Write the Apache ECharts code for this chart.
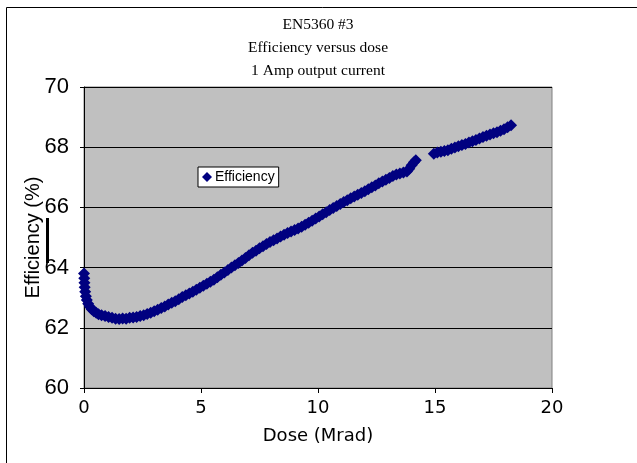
<!DOCTYPE html>
<html>
<head>
<meta charset="utf-8">
<script src="https://cdn.jsdelivr.net/npm/echarts@6/dist/echarts.min.js"></script>
<style>
  html, body { margin: 0; padding: 0; background: #fff; }
  #chart { width: 637px; height: 463px; }
</style>
</head>
<body>
<div id="chart"></div>
<script>
// values
const titleLines = ['EN5360 #3', 'Efficiency versus dose', '1 Amp output current'];
const seriesName = 'Efficiency';
const xTicks = [0, 5, 10, 15, 20];
const yTicks = [60, 62, 64, 66, 68, 70];

// dose (Mrad)
const dose = [
  0.00, 0.01, 0.02, 0.03, 0.05, 0.08, 0.12, 0.18, 0.25, 0.33, 0.42, 0.52, 0.62, 0.75, 0.90,
  1.05, 1.20, 1.35, 1.50, 1.65, 1.80, 1.95, 2.10, 2.25, 2.40, 2.55, 2.70, 2.85, 3.00, 3.15,
  3.30, 3.45, 3.60, 3.75, 3.90, 4.05, 4.20, 4.35, 4.50, 4.65, 4.80, 4.95, 5.10, 5.25, 5.40,
  5.55, 5.70, 5.85, 6.00, 6.15, 6.30, 6.45, 6.60, 6.75, 6.90, 7.05, 7.20, 7.35, 7.50, 7.65,
  7.80, 7.95, 8.10, 8.25, 8.40, 8.55, 8.70, 8.85, 9.00, 9.15, 9.30, 9.45, 9.60, 9.75, 9.90,
  10.05, 10.20, 10.35, 10.50, 10.65, 10.80, 10.95, 11.10, 11.25, 11.40, 11.55, 11.70, 11.85,
  12.00, 12.15, 12.30, 12.45, 12.60, 12.75, 12.90, 13.05, 13.20, 13.35, 13.50, 13.65, 13.80,
  13.90, 14.00, 14.10, 14.18,
  14.95, 15.10, 15.25, 15.40, 15.55, 15.70, 15.85, 16.00, 16.15, 16.30, 16.45, 16.60, 16.75,
  16.90, 17.05, 17.20, 17.35, 17.50, 17.65, 17.80, 17.95, 18.10, 18.25
];

// efficiency (%)
const efficiency = [
  63.80, 63.65, 63.50, 63.35, 63.20, 63.05, 62.92, 62.80, 62.70, 62.62, 62.55, 62.50, 62.45, 62.42, 62.39,
  62.36, 62.33, 62.30, 62.29, 62.31, 62.30, 62.33, 62.34, 62.36, 62.39, 62.42, 62.46, 62.50, 62.55, 62.60,
  62.66, 62.71, 62.77, 62.83, 62.88, 62.95, 63.02, 63.08, 63.14, 63.20, 63.26, 63.33, 63.40, 63.46, 63.53,
  63.60, 63.68, 63.76, 63.84, 63.92, 64.00, 64.08, 64.15, 64.24, 64.32, 64.41, 64.49, 64.56, 64.64, 64.71,
  64.78, 64.85, 64.91, 64.97, 65.03, 65.09, 65.15, 65.20, 65.25, 65.30, 65.36, 65.42, 65.49, 65.56, 65.63,
  65.70, 65.77, 65.84, 65.91, 65.98, 66.05, 66.11, 66.18, 66.24, 66.30, 66.36, 66.42, 66.48,
  66.54, 66.60, 66.67, 66.73, 66.80, 66.86, 66.92, 66.98, 67.04, 67.09, 67.13, 67.16, 67.19,
  67.28, 67.40, 67.50, 67.57,
  67.78, 67.82, 67.85, 67.87, 67.90, 67.95, 67.99, 68.03, 68.07, 68.11, 68.16, 68.20, 68.24,
  68.29, 68.34, 68.38, 68.42, 68.46, 68.50, 68.55, 68.60, 68.66, 68.73
];

const chart = echarts.init(document.getElementById('chart'));

const option = {
  animation: false,
  backgroundColor: '#fff',
  title: {
    text: titleLines.join('\n'),
    left: 313,
    top: 8,
    textAlign: 'center',
    textStyle: {
      fontFamily: 'Liberation Serif',
      fontWeight: 'normal',
      fontSize: 15.5,
      lineHeight: 23,
      color: '#000'
    }
  },
  legend: {
    data: [seriesName],
    left: 198,
    top: 167,
    orient: 'vertical',
    padding: [3, 4, 3, 4],
    backgroundColor: '#fff',
    borderColor: '#000',
    borderWidth: 1,
    borderRadius: 0,
    itemWidth: 10,
    itemHeight: 10,
    itemGap: 0,
    icon: 'diamond',
    textStyle: {
      fontFamily: 'Liberation Sans',
      fontSize: 14,
      lineHeight: 14,
      padding: [0, 0, 0, -2],
      color: '#000'
    }
  },
  grid: {
    left: 84,
    right: 85,
    top: 87,
    bottom: 75,
    show: true,
    backgroundColor: '#c0c0c0',
    borderColor: '#808080',
    borderWidth: 1
  },
  xAxis: {
    type: 'value',
    min: xTicks[0],
    max: xTicks[xTicks.length - 1],
    interval: 5,
    name: 'Dose (Mrad)',
    nameLocation: 'middle',
    nameGap: 39,
    nameMoveOverlap: false,
    nameTextStyle: {
      fontFamily: 'DejaVu Sans',
      fontSize: 18,
      color: '#000'
    },
    axisLine: { show: true, onZero: false, lineStyle: { color: '#000', width: 1 } },
    axisTick: { show: true, inside: false, length: 5, lineStyle: { color: '#000' } },
    axisLabel: {
      fontFamily: 'DejaVu Sans',
      fontSize: 18,
      color: '#000',
      margin: 11
    },
    splitLine: { show: false }
  },
  yAxis: {
    type: 'value',
    min: yTicks[0],
    max: yTicks[yTicks.length - 1],
    interval: 2,
    name: 'Efficiency (%)',
    nameLocation: 'middle',
    nameGap: 41,
    nameMoveOverlap: false,
    nameTextStyle: {
      fontFamily: 'Liberation Sans',
      fontSize: 20,
      color: '#000'
    },
    axisLine: { show: true, onZero: false, lineStyle: { color: '#000', width: 1 } },
    axisTick: { show: true, inside: false, length: 4, lineStyle: { color: '#000' } },
    axisLabel: {
      fontFamily: 'Liberation Sans',
      fontSize: 22,
      color: '#000',
      margin: 15
    },
    splitLine: { show: true, lineStyle: { color: '#000', width: 1 } }
  },
  graphic: [
    {
      type: 'rect',
      left: 4,
      top: 5,
      shape: { width: 700, height: 500 },
      style: { fill: 'none', stroke: '#000', lineWidth: 1 },
      silent: true,
      z: -10
    },
    {
      type: 'rect',
      left: 46,
      top: 218,
      shape: { width: 3, height: 45 },
      style: { fill: '#000' },
      silent: true
    }
  ],
  series: [
    {
      name: seriesName,
      type: 'scatter',
      symbol: 'diamond',
      symbolSize: 12,
      itemStyle: { color: '#000080', opacity: 1 },
      data: dose.map((d, i) => [d, efficiency[i]])
    }
  ]
};

chart.setOption(option);
</script>
</body>
</html>
